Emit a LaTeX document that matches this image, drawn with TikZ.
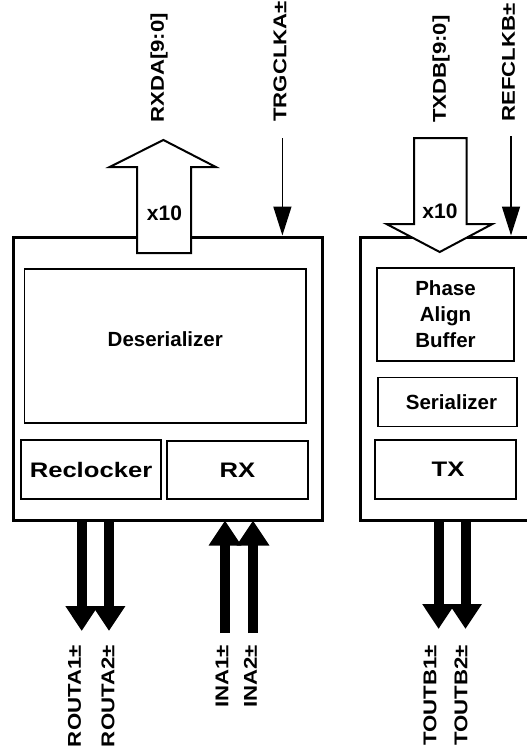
\documentclass[tikz,border=0pt]{standalone}
\usepackage{fontspec}
\setmainfont{Liberation Sans}
\newfontfamily\sigfont{Liberation Sans}[FakeStretch=1.2]
\newfontfamily\widefont{Liberation Sans}[FakeStretch=1.22]
\usetikzlibrary{arrows.meta}
\def\chipLine{3pt}
\def\blockLine{1.8pt}
\def\busLine{2pt}
\tikzset{
  chip/.style={draw,line width=\chipLine,inner sep=0pt,outer sep=0pt},
  block/.style={
    draw,
    line width=\blockLine,
    inner sep=0pt,
    outer sep=0pt,
    align=center,
    font=\bfseries\fontsize{20.5}{26}\selectfont
  },
  bigBlock/.style={block,font=\widefont\bfseries\fontsize{21}{25}\selectfont},
  sigLabel/.style={
    rotate=90,
    inner sep=0pt,
    font=\sigfont\bfseries\fontsize{18.5}{21}\selectfont
  },
  busLabel/.style={inner sep=0pt,font=\bfseries\fontsize{21}{25}\selectfont},
  bus/.style={draw,fill=white,line width=\busLine,line join=miter},
  clkArrow/.style={line width=1.6pt,-{Triangle[length=29pt,width=18pt]}},
  diffArrow/.style={line width=10pt,-{Triangle[length=25pt,width=31pt]}}
}

\begin{document}
\begin{tikzpicture}[x=1pt,y=-1pt]
  \useasboundingbox (0,0) rectangle (527,755);
  \clip (0,0) rectangle (527,755);

  % the two chips
  \node[chip,minimum width=308.5pt,minimum height=283pt] (chipA) at (167.75,379) {};
  \node[chip,minimum width=190pt,minimum height=283pt,anchor=west] (chipB) at (360.5,379) {};

  % receive side
  \node[block,minimum width=281.5pt,minimum height=154pt,text depth=14pt] (deser) at (165.25,346) {Deserializer};
  \node[bigBlock,minimum width=140pt,minimum height=59pt] (reclk) at (91,469.5) {Reclocker};
  \node[bigBlock,minimum width=141pt,minimum height=58pt] (rx) at (237.5,470) {RX};

  % transmit side
  \node[block,minimum width=137pt,minimum height=93pt] (pab) at (445.5,314.5) {Phase\\Align\\Buffer};
  \node[block,minimum width=139pt,minimum height=49pt] (ser) at (447.5,402) {\hspace{8pt}Serializer};
  \node[bigBlock,minimum width=141pt,minimum height=59pt] (tx) at (445.5,469.5) {\hspace{5pt}TX};

  % parallel buses
  \coordinate (rxdaTip) at (163.4,140);
  \draw[bus] (rxdaTip) -- ++(52.4,27) -- ++(-24.8,0) -- ++(0,86) -- ++(-54,0)
    -- ++(0,-86) -- ++(-27.4,0) -- cycle;
  \node[busLabel] (rxdaCount) at (164.5,213) {x10};

  \coordinate (txdbTip) at (439.7,252);
  \draw[bus] (txdbTip) -- ++(52.7,-28) -- ++(-25.8,0) -- ++(0,-86) -- ++(-52.6,0)
    -- ++(0,86) -- ++(-27.5,0) -- cycle;
  \node[busLabel] (txdbCount) at (440,211) {x10};

  % clocks
  \coordinate (trgclk) at (282.4,138);
  \coordinate (refclk) at (511,136);
  \draw[clkArrow,shorten >=2pt] (trgclk) -- (trgclk |- chipA.north);
  \draw[clkArrow,shorten >=2pt] (refclk) -- (refclk |- chipB.north);

  % serial pins
  \coordinate (routA1) at (81.7,631);
  \coordinate (routA2) at (109,631);
  \coordinate (inA1) at (225,633);
  \coordinate (inA2) at (253,633);
  \coordinate (toutB1) at (438.6,629);
  \coordinate (toutB2) at (465.5,629);
  \draw[diffArrow] (routA1 |- chipA.south) -- (routA1);
  \draw[diffArrow] (routA2 |- chipA.south) -- (routA2);
  \draw[diffArrow] (inA1) -- (inA1 |- chipA.south);
  \draw[diffArrow] (inA2) -- (inA2 |- chipA.south);
  \draw[diffArrow] (toutB1 |- chipB.south) -- (toutB1);
  \draw[diffArrow] (toutB2 |- chipB.south) -- (toutB2);

  % pin names
  \node[sigLabel,anchor=west] (rxdaName) at (159,123) {RXDA[9:0]};
  \node[sigLabel,anchor=west] (trgclkName) at (280,122) {TRGCLKA±};
  \node[sigLabel,anchor=west] (txdbName) at (441,123) {TXDB[9:0]};
  \node[sigLabel,anchor=west] (refclkName) at (508.5,122) {REFCLKB±};
  \node[sigLabel,anchor=east] (routA1Name) at (74.5,645) {ROUTA1±};
  \node[sigLabel,anchor=east] (routA2Name) at (108,645) {ROUTA2±};
  \node[sigLabel,anchor=east] (inA1Name) at (222,645) {INA1±};
  \node[sigLabel,anchor=east] (inA2Name) at (250.5,645) {INA2±};
  \node[sigLabel,anchor=east] (toutB1Name) at (430,645) {TOUTB1±};
  \node[sigLabel,anchor=east] (toutB2Name) at (461,645) {TOUTB2±};
\end{tikzpicture}
\end{document}
